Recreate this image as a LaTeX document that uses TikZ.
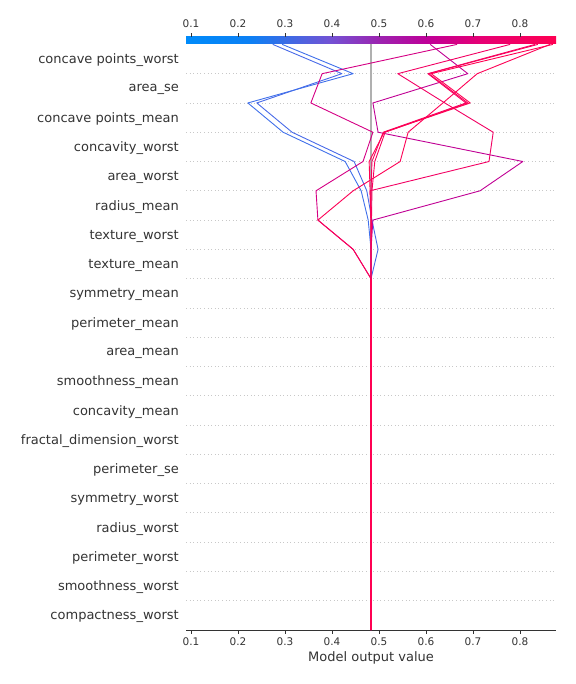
\documentclass[tikz,border=0pt]{standalone}
\usepackage{fontspec}
\setmainfont{DejaVu Sans}
\usepackage{xcolor}
\usetikzlibrary{positioning}

\definecolor{txtgrey}{HTML}{333333}
\definecolor{gridgrey}{HTML}{C8C8C8}
\definecolor{basegrey}{HTML}{B0B0B0}
% colour bar stops
\definecolor{cbA}{RGB}{0,139,250}
\definecolor{cbB}{RGB}{12,128,244}
\definecolor{cbC}{RGB}{115,82,212}
\definecolor{cbD}{RGB}{155,36,176}
\definecolor{cbE}{RGB}{190,0,152}
\definecolor{cbF}{RGB}{230,0,116}
\definecolor{cbG}{RGB}{255,0,82}
% line colours (by final output)
\definecolor{lnA}{RGB}{72,106,232}
\definecolor{lnB}{RGB}{64,112,234}
\definecolor{lnC}{RGB}{192,0,148}
\definecolor{lnD}{RGB}{212,0,132}
\definecolor{lnE}{RGB}{242,0,98}
\definecolor{lnF}{RGB}{253,0,85}
\definecolor{lnG}{RGB}{248,0,92}
\definecolor{lnH}{RGB}{255,0,82}

\begin{document}
\begin{tikzpicture}[x=1bp,y=-1bp,
  feat/.style={anchor=east,text=txtgrey,inner sep=0pt,font=\fontsize{13bp}{15bp}\selectfont},
  tick/.style={text=txtgrey,inner sep=0pt,font=\fontsize{10.5bp}{12bp}\selectfont},
  axisline/.style={txtgrey,line width=0.8bp},
  rowgrid/.style={gridgrey,line width=0.8bp,dash pattern=on 1bp off 2.6bp},
  shapline/.style={line width=0.9bp,line join=round}]
\useasboundingbox (0,0) rectangle (576,684);

% dotted row separators
\foreach \k in {1,...,19}
  \draw[rowgrid] (186,{630-29.28*\k}) -- (556,{630-29.28*\k});

% feature names
\foreach \name [count=\i from 0] in {concave points\_worst,area\_se,concave points\_mean,
  concavity\_worst,area\_worst,radius\_mean,texture\_worst,texture\_mean,symmetry\_mean,
  perimeter\_mean,area\_mean,smoothness\_mean,concavity\_mean,fractal\_dimension\_worst,
  perimeter\_se,symmetry\_worst,radius\_worst,perimeter\_worst,smoothness\_worst,compactness\_worst}
  \node[feat] (f\i) at (179,{60.4+29.28*\i}) {\name};

% colour bar
\shade[left color=cbA,right color=cbB] (186,37) rectangle (250.5,44);
\shade[left color=cbB,right color=cbC] (250,37) rectangle (330.5,44);
\shade[left color=cbC,right color=cbD] (330,37) rectangle (378.5,44);
\shade[left color=cbD,right color=cbE] (378,37) rectangle (426.5,44);
\shade[left color=cbE,right color=cbF] (426,37) rectangle (480.5,44);
\shade[left color=cbF,right color=cbG] (480,37) rectangle (556,44);

% ticks and tick labels, top and bottom
\foreach \v in {1,...,8} {
  \pgfmathsetmacro\xp{144+47*\v}
  \draw[axisline] (\xp,37) -- (\xp,33.5);
  \node[tick] (tt\v) at (\xp,23.5) {0.\v};
  \draw[axisline] (\xp,630) -- (\xp,634);
  \node[tick] (bt\v) at (\xp,642) {0.\v};
}
\draw[axisline] (186,630) -- (556,630);
\node[feat,anchor=center] (xlab) at (371,657.5) {Model output value};

% base value
\draw[basegrey,line width=2.4bp] (371,44) -- (371,630);

% decision lines, x = model output, y = row boundary
\begin{scope}[shift={(144,630)},x=470bp,y=29.28bp]
\draw[shapline,lnA] (0.483,0) -- (0.483,12) -- (0.498,13) -- (0.485,14) -- (0.474,15)
  -- (0.447,16) -- (0.315,17) -- (0.240,18) -- (0.421,19) -- (0.274,20);
\draw[shapline,lnB] (0.483,0) -- (0.483,12) -- (0.483,13) -- (0.477,14) -- (0.462,15)
  -- (0.428,16) -- (0.296,17) -- (0.221,18) -- (0.445,19) -- (0.294,20);
\draw[shapline,lnC] (0.483,0) -- (0.483,12) -- (0.483,13) -- (0.487,14) -- (0.715,15)
  -- (0.806,16) -- (0.498,17) -- (0.487,18) -- (0.689,19) -- (0.609,20);
\draw[shapline,lnD] (0.483,0) -- (0.483,12) -- (0.445,13) -- (0.370,14) -- (0.366,15)
  -- (0.466,16) -- (0.487,17) -- (0.355,18) -- (0.379,19) -- (0.666,20);
\draw[shapline,lnE] (0.483,0) -- (0.483,12) -- (0.483,13) -- (0.483,14) -- (0.481,15)
  -- (0.734,16) -- (0.743,17) -- (0.640,18) -- (0.540,19) -- (0.779,20);
\draw[shapline,lnF] (0.483,0) -- (0.483,12) -- (0.445,13) -- (0.370,14) -- (0.445,15)
  -- (0.545,16) -- (0.562,17) -- (0.636,18) -- (0.709,19) -- (0.864,20);
\draw[shapline,lnG] (0.483,0) -- (0.483,12) -- (0.483,13) -- (0.483,14) -- (0.483,15)
  -- (0.485,16) -- (0.509,17) -- (0.685,18) -- (0.604,19) -- (0.832,20);
\draw[shapline,lnG] (0.483,0) -- (0.483,12) -- (0.483,13) -- (0.484,14) -- (0.485,15)
  -- (0.491,16) -- (0.513,17) -- (0.689,18) -- (0.606,19) -- (0.838,20);
\draw[shapline,lnH] (0.483,0) -- (0.483,12) -- (0.483,13) -- (0.483,14) -- (0.481,15)
  -- (0.479,16) -- (0.511,17) -- (0.694,18) -- (0.611,19) -- (0.870,20);
% shared trunk where all lines overlap
\draw[shapline,lnH,line width=2.2bp] (0.483,0) -- (0.483,12);
\end{scope}
\end{tikzpicture}
\end{document}
